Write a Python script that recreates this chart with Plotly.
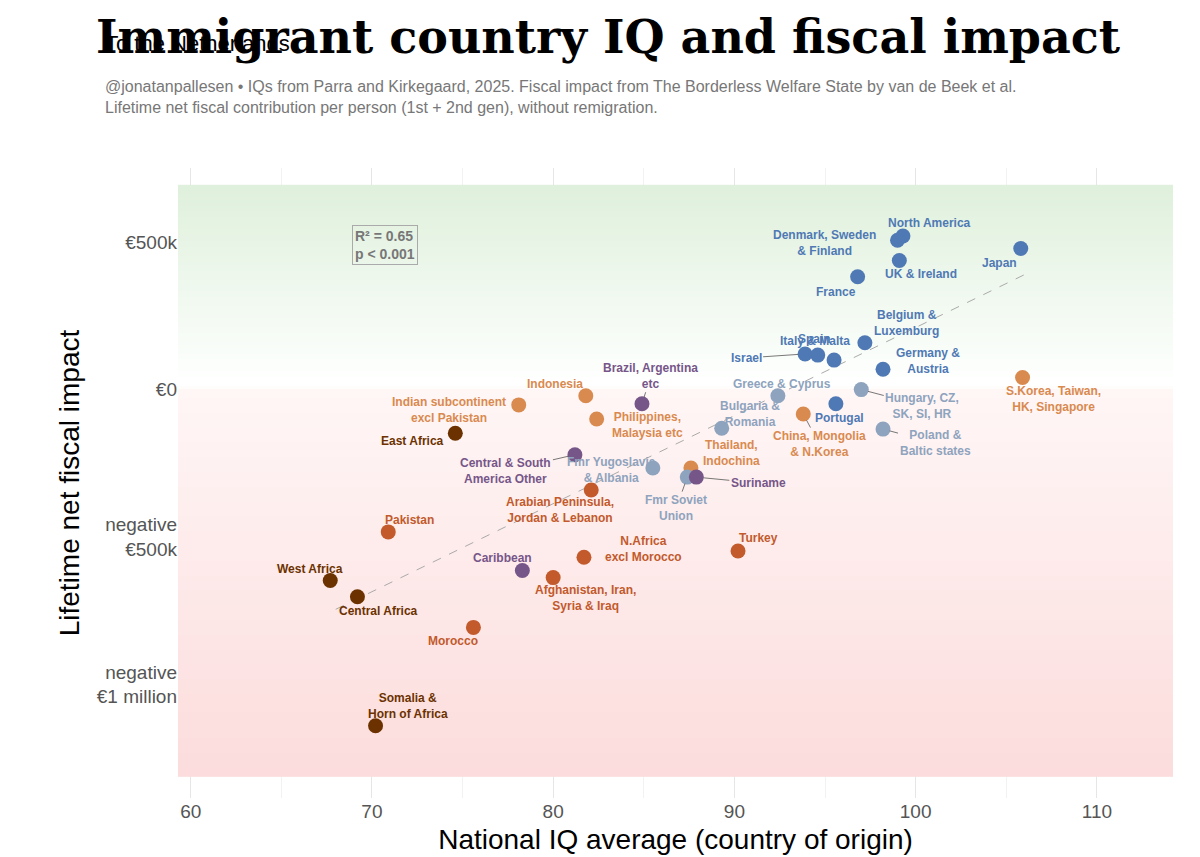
import numpy as np
import plotly.graph_objects as go

regions = ["North America","Denmark, Sweden<br>& Finland","UK & Ireland","Japan","France",
 "Belgium &<br>Luxemburg","Italy & Malta","Israel","Germany &<br>Austria","Spain","Portugal",
 "S.Korea, Taiwan,<br>HK, Singapore","Hungary, CZ,<br>SK, SI, HR","Greece & Cyprus",
 "Poland &<br>Baltic states","Bulgaria &<br>Romania","China, Mongolia<br>& N.Korea",
 "Thailand,<br>Indochina","Fmr Soviet<br>Union","Suriname","Fmr Yugoslavia<br>& Albania",
 "Brazil, Argentina<br>etc","Indonesia","Philippines,<br>Malaysia etc",
 "Indian subcontinent<br>excl Pakistan","East Africa","Central & South<br>America Other",
 "Arabian Peninsula,<br>Jordan & Lebanon","Pakistan","N.Africa<br>excl Morocco","Turkey",
 "Caribbean","Afghanistan, Iran,<br>Syria & Iraq","West Africa","Central Africa","Morocco",
 "Somalia &<br>Horn of Africa"]
iq = [99.3,99.0,99.1,105.8,96.8,97.2,94.6,93.9,98.2,95.5,95.6,105.9,97.0,92.4,98.2,89.3,93.8,
      87.6,87.4,87.9,85.5,84.9,81.8,82.4,78.1,74.6,81.2,82.1,70.9,81.7,90.2,78.3,80.0,67.7,69.2,75.6,70.2]
fiscal = [521,507,438,479,383,159,117,121,69,100,-48,41,0,-21,-134,-131,-83,-266,-297,-297,-266,
          -48,-21,-100,-52,-148,-221,-341,-483,-569,-548,-614,-638,-648,-703,-807,-1141]
group = ["w","w","w","w","w","w","w","w","w","w","w","a","e","e","e","e","a","a","e","l","e","l",
         "a","a","a","f","l","m","m","m","m","l","m","f","f","m","f"]

colors = {"w":"#4f79b4","e":"#8ea3bd","a":"#d98a4f","l":"#765689","m":"#c25a2c","f":"#6b3200"}
# label offsets in pixels (dx, dy) and whether a leader line is drawn
offsets = [(27,-13,0),(-73,3,0),(22,13,0),(-21,15,0),(-22,15,0),(42,-20,0),(-3,-14,0),(-59,4,1),
           (45,-8,0),(-20,-21,0),(4,14,0),(31,21,0),(61,16,1),(4,-12,0),(52,14,1),(28,-14,0),
           (16,30,1),(41,-15,0),(-11,31,1),(62,6,1),(-41,2,1),(9,-28,1),(-31,-12,0),(51,6,0),
           (-70,5,0),(-43,8,0),(-69,16,1),(-31,20,0),(21,-12,0),(60,-8,0),(20,-13,0),(-20,-13,0),
           (32,20,0),(-20,-12,0),(21,14,0),(-20,14,0),(32,-20,0)]

fig = go.Figure()

# background gradient
ys = np.linspace(-1310, 690, 200)
z = [[v] for v in ys]
fig.add_trace(go.Heatmap(x=[62,111.5], y=ys, z=[[v, v] for v in ys], showscale=False, hoverinfo="skip",
    zmin=-1310, zmax=690,
    colorscale=[[0,"#fcdcdc"],[0.655,"#fff6f6"],[0.66,"#ffffff"],[0.7,"#fbfefb"],[1,"#dff0dc"]]))

slope, inter = np.polyfit(iq, fiscal, 1)
xl = np.array([68, 106])
fig.add_trace(go.Scatter(x=xl, y=slope*xl+inter, mode="lines", hoverinfo="skip",
    line=dict(color="#aaaaaa", width=1, dash="dash"), showlegend=False))

fig.add_trace(go.Scatter(x=iq, y=fiscal, mode="markers", showlegend=False,
    marker=dict(size=15, color=[colors[g] for g in group])))

for i, r in enumerate(regions):
    dx, dy, ln = offsets[i]
    fig.add_annotation(x=iq[i], y=fiscal[i], text="<b>"+r+"</b>", ax=dx, ay=dy,
        showarrow=True, arrowhead=0, arrowwidth=0.8, standoff=7,
        arrowcolor="#555555" if ln else "rgba(0,0,0,0)",
        font=dict(size=12, color=colors[group[i]], family="Liberation Sans"),
        xanchor="center", yanchor="middle")

fig.add_annotation(x=68.9, y=490, xanchor="left", yanchor="middle", showarrow=False, align="left",
    text="<b>R² = 0.65<br>p < 0.001</b>", font=dict(size=14, color="#777777", family="Liberation Sans"),
    bordercolor="#aaaaaa", borderwidth=1, borderpad=2, bgcolor="rgba(255,255,255,0)")

fig.update_layout(
    width=1200, height=857, plot_bgcolor="white", paper_bgcolor="white",
    margin=dict(l=170, r=35, t=160, b=67),
    font=dict(family="Liberation Sans"),
    title=dict(text="<b>Immigrant country IQ and fiscal impact</b>", x=0.5, xanchor="center", y=0.985, yanchor="top",
               font=dict(family="DejaVu Serif", size=46, color="black")),
    xaxis=dict(range=[59.3, 114.2], tickvals=[60,70,80,90,100,110], showgrid=True, gridcolor="#e6e6e6",
               minor=dict(tickvals=[65,75,85,95,105], showgrid=True, gridcolor="#f2f2f2"),
               zeroline=False, tickfont=dict(size=19, color="#555555"),
               title=dict(text="National IQ average (country of origin)", font=dict(size=28, color="black"), standoff=8)),
    yaxis=dict(range=[-1386, 752], tickvals=[500,0,-500,-1000],
               ticktext=["€500k","€0","negative<br>€500k","negative<br>€1 million"],
               showgrid=True, gridcolor="#e6e6e6",
               minor=dict(tickvals=[750,250,-250,-750,-1250], showgrid=True, gridcolor="#f2f2f2"),
               zeroline=False, tickfont=dict(size=19, color="#555555"),
               title=dict(text="Lifetime net fiscal impact", font=dict(size=28, color="black"), standoff=8)),
)
fig.add_annotation(xref="paper", yref="paper", x=-0.075, y=1.175, xanchor="left", yanchor="bottom", showarrow=False,
    text="To the Netherlands", font=dict(size=22, color="black"))
fig.add_annotation(xref="paper", yref="paper", x=-0.075, y=1.08, xanchor="left", yanchor="bottom", showarrow=False, align="left",
    text="@jonatanpallesen • IQs from Parra and Kirkegaard, 2025. Fiscal impact from The Borderless Welfare State by van de Beek et al.<br>Lifetime net fiscal contribution per person (1st + 2nd gen), without remigration.",
    font=dict(size=16, color="#777777"))

fig.write_html("out.html")
